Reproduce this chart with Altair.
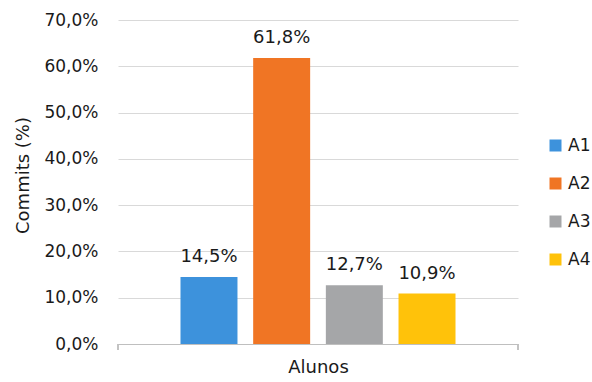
import altair as alt
import pandas as pd

alunos = ["A1", "A2", "A3", "A4"]
commits = [0.145, 0.618, 0.127, 0.109]
colors = ["#3D92DC", "#F07524", "#A5A6A8", "#FFC20A"]

df = pd.DataFrame({"Aluno": alunos, "Commits": commits})

FONT = "DejaVu Sans"
W, H = 400, 324

x = alt.X("Aluno:N", title="Alunos",
          scale=alt.Scale(paddingInner=0.216, paddingOuter=0.86),
          axis=alt.Axis(labels=False, ticks=False, domainColor="#BFBFBF",
                        titleFontWeight="normal", titleFontSize=18,
                        titleColor="#1a1a1a", titlePadding=14))
y = alt.Y("Commits:Q", title="Commits (%)",
          scale=alt.Scale(domain=[0, 0.7], nice=False),
          axis=alt.Axis(values=[0, 0.1, 0.2, 0.3, 0.4, 0.5, 0.6, 0.7],
                        labelExpr="replace(format(datum.value, '.1%'), '.', ',')",
                        ticks=False, domain=False, labelPadding=20,
                        gridColor="#D9D9D9", labelFontSize=17,
                        labelColor="#1a1a1a", titleFontSize=18,
                        titleFontWeight="normal", titleColor="#1a1a1a",
                        titleX=-95, titleY=155, titleBaseline="middle"))

bars = alt.Chart(df).mark_bar().encode(
    x=x, y=y,
    color=alt.Color("Aluno:N", scale=alt.Scale(domain=alunos, range=colors),
                    legend=alt.Legend(title=None, orient="none", legendX=429,
                                      legendY=117, symbolType="square",
                                      symbolSize=144, symbolStrokeWidth=0,
                                      labelFontSize=17, labelColor="#1a1a1a",
                                      rowPadding=20, labelOffset=4)),
)

labels = alt.Chart(df).transform_calculate(
    lbl="replace(format(datum.Commits, '.1%'), '.', ',')"
).mark_text(dy=-15, baseline="alphabetic", fontSize=18, color="#1a1a1a",
            font=FONT).encode(x="Aluno:N", y="Commits:Q", text="lbl:N")

edge_l = alt.Chart(df).mark_rule(color="#BFBFBF").encode(
    x=alt.value(0), y=alt.value(H), y2=alt.value(H + 6))
edge_r = alt.Chart(df).mark_rule(color="#BFBFBF").encode(
    x=alt.value(W), y=alt.value(H), y2=alt.value(H + 6))

chart = alt.layer(bars, labels, edge_l, edge_r).properties(
    width=W, height=H,
    autosize=alt.AutoSizeParams(type="none"),
    padding={"left": 118, "top": 20, "right": 74, "bottom": 38},
).configure(font=FONT).configure_view(stroke=None)

chart.save("out.html", embed_options={"renderer": "svg", "actions": False})
